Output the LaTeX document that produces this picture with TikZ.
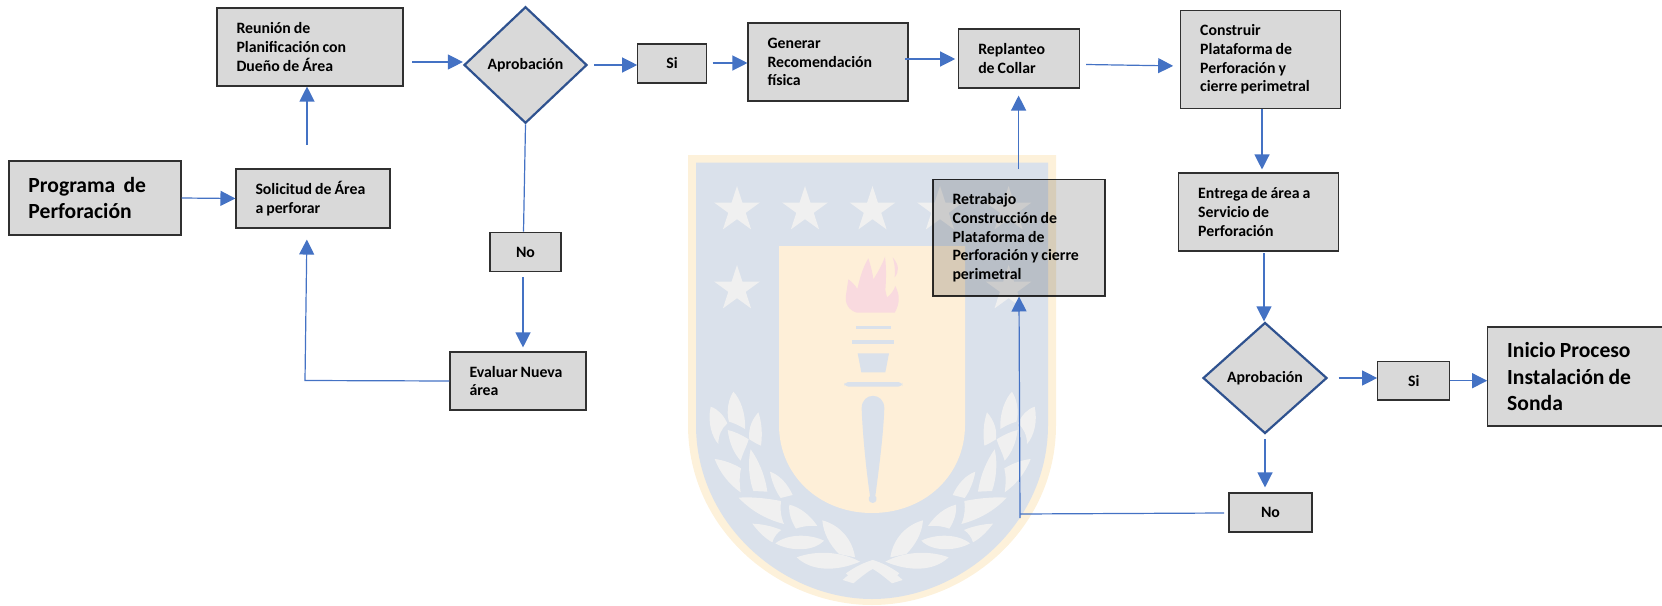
\documentclass[tikz,border=0pt]{standalone}
\usepackage{fontspec}
\setmainfont{Carlito}
\usetikzlibrary{arrows.meta,shapes.geometric,calc}
\definecolor{boxgray}{HTML}{D9D9D9}
\definecolor{edge}{HTML}{303030}
\definecolor{dblue}{HTML}{2F528F}
\definecolor{lblue}{HTML}{4472C4}
\definecolor{shieldedge}{HTML}{FDF1DA}
\definecolor{shieldblue}{HTML}{DAE1EB}
\definecolor{shieldcream}{HTML}{FEEFD8}
\definecolor{shieldstar}{HTML}{F0F0F0}
\definecolor{flame}{HTML}{F9DADF}
\tikzset{
  base/.style={draw=edge,fill=boxgray,line width=1.1pt,inner sep=0pt,rectangle},
  small/.style={font=\fontsize{15.8}{18.7}\selectfont\bfseries},
  large/.style={font=\fontsize{21.6}{26.6}\selectfont\bfseries},
  indented/.style={align=left,execute at begin node={\spaceskip=.19em\relax\leftskip=19.5pt\relax},execute at end node={\par}},
  stepbox/.style={base,small,indented},
  bigbox/.style={base,large,indented},
  tagbox/.style={base,small,align=center},
  decision/.style={diamond,draw=dblue,fill=boxgray,line width=2.2pt,inner sep=0pt,small,align=center},
  link/.style={draw=lblue,line width=1.2pt},
  flow/.style={link,-{Triangle[length=15pt,width=15pt]}},
  leaf/.style={fill=shieldstar,draw=none}
}
\newcommand{\starmark}[2]{\fill[shieldstar] (#1,#2) ++(-90:24) \foreach \i in {1,...,4} { -- ($(#1,#2)+({-90+144*\i}:24)$) } -- cycle;}
\newcommand{\laurel}{%
  \fill[leaf] (130,35) .. controls (108,70) and (112,110) .. (117,125) .. controls (135,130) and (150,138) .. (165,147) .. controls (168,100) and (150,55) .. (130,35) -- cycle;
  \fill[leaf] (62,80) .. controls (52,125) and (65,170) .. (85,192) .. controls (85,165) and (95,145) .. (112,130) .. controls (100,105) and (85,88) .. (62,80) -- cycle;
  \fill[leaf] (205,97) .. controls (180,125) and (175,155) .. (178,178) .. controls (190,185) and (200,192) .. (213,197) .. controls (218,160) and (215,125) .. (205,97) -- cycle;
  \fill[leaf] (113,150) .. controls (118,190) and (132,220) .. (152,242) .. controls (160,215) and (172,195) .. (176,178) .. controls (155,165) and (135,155) .. (113,150) -- cycle;
  \fill[leaf] (182,208) .. controls (172,250) and (178,300) .. (190,333) -- (232,335) .. controls (225,285) and (205,240) .. (182,208) -- cycle;
  \fill[leaf] (74,237) .. controls (90,280) and (120,315) .. (152,337) .. controls (148,310) and (148,285) .. (153,265) .. controls (128,250) and (100,240) .. (74,237) -- cycle;
  \fill[leaf] (240,275) .. controls (245,305) and (258,335) .. (272,354) -- (308,345) .. controls (292,310) and (268,285) .. (240,275) -- cycle;
  \fill[leaf] (146,353) .. controls (185,395) and (235,420) .. (282,432) .. controls (272,410) and (270,385) .. (273,363) .. controls (230,355) and (185,350) .. (146,353) -- cycle;
  \fill[leaf] (298,374) .. controls (295,400) and (305,425) .. (318,446) .. controls (340,438) and (360,436) .. (382,438) .. controls (360,405) and (330,382) .. (298,374) -- cycle;
  \fill[leaf] (187,431) .. controls (205,455) and (225,475) .. (247,487) .. controls (252,470) and (262,458) .. (274,450) .. controls (245,438) and (215,432) .. (187,431) -- cycle;
  \fill[leaf] (256,490) .. controls (290,510) and (365,520) .. (402,482) .. controls (360,462) and (295,460) .. (256,490) -- cycle;
  \fill[leaf] (397,421) .. controls (400,460) and (420,495) .. (447,522) -- (495,532) .. controls (488,480) and (450,435) .. (397,421) -- cycle;
  \fill[leaf] (320,532) .. controls (365,575) and (440,575) .. (510,545) .. controls (455,515) and (380,510) .. (320,532) -- cycle;
  \fill[leaf] (458,600) -- (490,610) .. controls (520,585) and (540,570) .. (552,565) .. controls (575,575) and (590,585) .. (608,600) -- (628,580) .. controls (600,560) and (575,548) .. (548,540) .. controls (515,555) and (485,575) .. (458,600) -- cycle;
}
\begin{document}
\begin{tikzpicture}[x=1pt,y=-1pt]
\useasboundingbox (0,0) rectangle (1662,605);
% watermark shield
\fill[shieldedge] (688,155) -- (1056,155) -- (1056,425) .. controls (1056,530) and (965,605) .. (872,605) .. controls (779,605) and (688,530) .. (688,425) -- cycle;
\fill[shieldblue] (696,162.5) -- (1048,162.5) -- (1048,425) .. controls (1048,525) and (960,599) .. (872,599) .. controls (784,599) and (696,525) .. (696,425) -- cycle;
\fill[shieldcream] (779,246) -- (965,246) -- (965,425) .. controls (965,475) and (925,513) .. (872,513) .. controls (819,513) and (779,475) .. (779,425) -- cycle;
\starmark{737}{210}\starmark{805}{210}\starmark{872.5}{210}\starmark{940}{210}\starmark{1008.6}{210}
\starmark{737}{289}\starmark{1008.6}{289}
% flame
\begin{scope}[xshift=820pt,yshift=-240pt,x=0.3333pt,y=-0.3333pt]
\fill[flame] (110,218) .. controls (85,210) and (74,190) .. (78,165) -- (85,118) .. controls (95,125) and (105,135) .. (112,147) .. controls (120,110) and (130,80) .. (145,55) .. controls (153,80) and (158,100) .. (160,118) .. controls (175,95) and (188,70) .. (195,50) .. controls (200,90) and (198,125) .. (196,150) -- (201,172) .. controls (212,165) and (222,150) .. (226,138) .. controls (240,165) and (240,190) .. (224,218) -- cycle;
\fill[flame] (218,52) .. controls (238,75) and (238,95) .. (224,112) .. controls (226,90) and (224,70) .. (218,52) -- cycle;
\fill[shieldblue] (108,257) -- (212,257) -- (212,268) -- (108,268) -- cycle;
\fill[shieldblue] (97,300) -- (222,300) -- (222,311) -- (97,311) -- cycle;
\fill[shieldblue] (113,340) -- (207,340) -- (196,397) -- (124,397) -- cycle;
\end{scope}
% handle and laurel
\begin{scope}[xshift=690pt,yshift=-380pt,x=0.3333pt,y=-0.3333pt]
\fill[shieldblue,rounded corners=4pt] (463,6) -- (637,6) -- (637,20) -- (463,20) -- cycle;
\fill[shieldblue] (515,85) .. controls (515,35) and (583,35) .. (583,85) .. controls (580,170) and (565,280) .. (556,348) .. controls (562,352) and (562,368) .. (548,369) .. controls (534,368) and (534,352) .. (540,348) .. controls (530,280) and (518,170) .. (515,85) -- cycle;
\laurel
\end{scope}
\begin{scope}[xshift=1055.33pt,yshift=-380pt,x=-0.3333pt,y=-0.3333pt]
\laurel
\end{scope}
% connectors
\coordinate (c1) at (307,145);
\coordinate (c2) at (412,62);
\coordinate (c3) at (594,65);
\coordinate (c4) at (712.5,63);
\coordinate (c5) at (905,59);
\coordinate (c6) at (1086,64.5);
\coordinate (c6b) at (1180,66);
\coordinate (c7) at (1262,0);
\coordinate (c8) at (1264,253);
\coordinate (c9) at (1265,439);
\coordinate (c10) at (1338.7,378);
\coordinate (c11) at (1224,513);
\coordinate (c12) at (1020,514);
\coordinate (c13) at (1020,518);
\coordinate (c14) at (1018.6,169);
\coordinate (c15) at (523.5,0);
\coordinate (c16) at (523,277);
\coordinate (c17) at (305,380.5);
\coordinate (c18) at (307,239);
% boxes
\node[bigbox,minimum width=172pt,minimum height=74pt,text width=172pt] (prog) at (95,198) {Programa\ \ de\\Perforación};
\node[stepbox,minimum width=154pt,minimum height=59pt,text width=154pt] (sol) at (313,198.5) {Solicitud de Área\\a perforar};
\node[stepbox,minimum width=186pt,minimum height=78pt,text width=186pt] (reu) at (310,47) {Reunión de\\Planificación con\\Dueño de Área};
\node[decision,minimum width=123pt,minimum height=116.5pt] (dia1) at (525.5,65) {Aprobación};
\node[tagbox,minimum width=68.5pt,minimum height=39pt] (si1) at (672,63.5) {Si};
\node[stepbox,minimum width=160pt,minimum height=78pt,text width=160pt] (gen) at (828,62) {Generar\\Recomendación\\física};
\node[stepbox,minimum width=120.5pt,minimum height=59pt,text width=120.5pt] (rep) at (1019,58.5) {Replanteo\\de Collar};
\node[stepbox,minimum width=160pt,minimum height=97.3pt,text width=160pt] (con) at (1260.7,59.4) {Construir\\Plataforma de\\Perforación y\\cierre perimetral};
\node[stepbox,minimum width=160pt,minimum height=78pt,text width=160pt] (ent) at (1258.7,212) {Entrega de área a\\Servicio de\\Perforación};
\node[decision,minimum width=124pt,minimum height=111pt] (dia2) at (1265,378) {Aprobación};
\node[tagbox,minimum width=72pt,minimum height=38.6pt] (si2) at (1413.7,380.7) {Si};
\node[bigbox,minimum width=174.6pt,minimum height=99pt,text width=174.6pt] (ini) at (1575,376.5) {Inicio Proceso\\Instalación de\\Sonda};
\node[tagbox,minimum width=83pt,minimum height=39pt] (no2) at (1270.5,512.5) {No};
\begin{scope}[blend mode=multiply]
\node[stepbox,minimum width=172pt,minimum height=116.5pt,text width=172pt] (ret) at (1019,237.7) {Retrabajo\\Construcción de\\Plataforma de\\Perforación y cierre\\perimetral};
\end{scope}
\node[tagbox,minimum width=71pt,minimum height=39.5pt] (no1) at (525.5,252) {No};
\node[stepbox,minimum width=136pt,minimum height=58pt,text width=136pt] (eva) at (518,381) {Evaluar Nueva\\área};
% links
\draw[flow] (prog.east) -- (sol.west);
\draw[flow] (c1) -- (reu.south -| c1);
\draw[flow] (c2) -- (dia1.west |- c2);
\draw[flow] (c3) -- (si1.west |- c3);
\draw[flow] (c4) -- (gen.west |- c4);
\draw[flow,shorten >=3pt] (c5) -- (rep.west |- c5);
\draw[flow,shorten >=7pt] (c6) -- (con.west |- c6b);
\draw[flow,shorten >=3pt] (con.south -| c7) -- (ent.north -| c7);
\draw[flow] (c8) -- (dia2.north -| c8);
\draw[flow,shorten >=5pt] (c9) -- (no2.north -| c9);
\draw[flow] (c10) -- (si2.west |- c10);
\draw[flow] (si2.east) -- (ini.west |- si2.east);
\draw[link] (c11) -- (c12);
\draw[flow] (c13) -- (ret.south);
\draw[flow,shorten >=7pt] (c14) -- (rep.south -| c14);
\draw[link] (dia1.south) -- (no1.north -| c15);
\draw[flow,shorten >=4pt] (c16) -- (eva.north -| c16);
\draw[flow,shorten >=11pt] (eva.west) -- (c17) -- (sol.south -| c18);
\end{tikzpicture}
\end{document}
